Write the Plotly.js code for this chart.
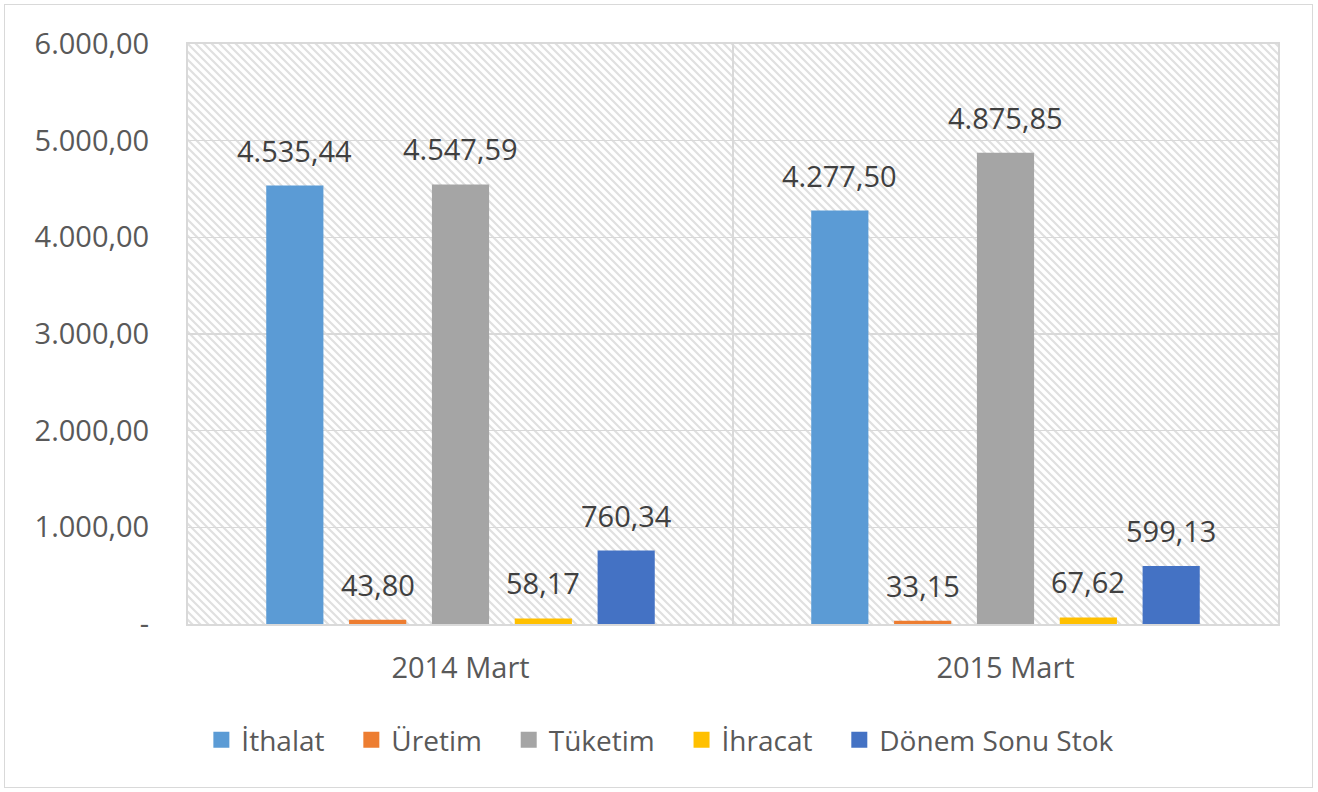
<!DOCTYPE html>
<html>
<head>
<meta charset="utf-8">
<script src="https://cdn.plot.ly/plotly-3.0.1.min.js"></script>
<style>
html,body{margin:0;padding:0;background:#fff;}
#wrap{position:relative;width:1318px;height:792px;}
#chart{width:1318px;height:792px;}
#frame{position:absolute;left:4px;top:4px;width:1307px;height:782px;border:1.5px solid #d9d9d9;pointer-events:none;}
</style>
</head>
<body>
<div id="wrap"><div id="chart"></div><div id="frame"></div></div>
<script>
const categories = ["2014 Mart", "2015 Mart"];
const seriesNames = ["İthalat", "Üretim", "Tüketim", "İhracat", "Dönem Sonu Stok"];
const ithalat = [4535.44, 4277.50];
const uretim = [43.80, 33.15];
const tuketim = [4547.59, 4875.85];
const ihracat = [58.17, 67.62];
const donemSonuStok = [760.34, 599.13];
const yTickVals = [0, 1000, 2000, 3000, 4000, 5000, 6000];
const yTickLabels = ["-", "1.000,00", "2.000,00", "3.000,00", "4.000,00", "5.000,00", "6.000,00"];

const seriesValues = [ithalat, uretim, tuketim, ihracat, donemSonuStok];
const colors = ["#5B9BD5", "#ED7D31", "#A5A5A5", "#FFC000", "#4472C4"];
const FONT = "Open Sans, DejaVu Sans, sans-serif";
const BARGAP = 0.24;
const NBSP = "\u00a0";

function fmt(v) {
  const parts = v.toFixed(2).split(".");
  return parts[0].replace(/\B(?=(\d{3})+(?!\d))/g, ".") + "," + parts[1];
}

const traces = seriesNames.map((name, i) => ({
  type: "bar",
  name: name + NBSP + NBSP + NBSP,
  x: categories,
  y: seriesValues[i],
  marker: {color: colors[i]},
  hoverinfo: "x+y+name"
}));

// data labels as annotations positioned in data coordinates (category index + group offset)
const slot = (1 - BARGAP) / seriesNames.length;
const annotations = [];
seriesValues.forEach((vals, i) => {
  vals.forEach((v, j) => {
    annotations.push({
      x: j + (i - (seriesNames.length - 1) / 2) * slot,
      y: v,
      xref: "x", yref: "y",
      text: fmt(v),
      showarrow: false,
      yanchor: "bottom",
      yshift: 14,
      font: {family: FONT, size: 29, color: "#404040"}
    });
  });
});

const hatchSvg = "<svg xmlns='http://www.w3.org/2000/svg' width='1090' height='580'>" +
  "<defs><pattern id='h' patternUnits='userSpaceOnUse' width='8' height='8'>" +
  "<path d='M-2,-2 L10,10 M-2,6 L2,10 M6,-2 L10,2' stroke='#e0e0e0' stroke-width='2.2'/>" +
  "</pattern></defs><rect width='1090' height='580' fill='#ffffff'/><rect width='1090' height='580' fill='url(#h)'/></svg>";

const layout = {
  width: 1318, height: 792,
  separators: ",.",
  margin: {l: 188, r: 40, t: 44, b: 168},
  paper_bgcolor: "#ffffff",
  plot_bgcolor: "rgba(0,0,0,0)",
  bargap: BARGAP,
  bargroupgap: 0.31,
  font: {family: FONT, color: "#595959"},
  images: [{
    source: "data:image/svg+xml;charset=utf-8," + encodeURIComponent(hatchSvg),
    xref: "paper", yref: "paper",
    x: 0, y: 1, sizex: 1, sizey: 1,
    xanchor: "left", yanchor: "top",
    sizing: "stretch", layer: "below"
  }],
  annotations: annotations,
  xaxis: {
    type: "category",
    tickson: "boundaries",
    showgrid: true,
    gridcolor: "#d9d9d9",
    gridwidth: 1.5,
    showline: true,
    linecolor: "#d9d9d9",
    linewidth: 2,
    mirror: true,
    ticks: "",
    tickangle: 0,
    automargin: false,
    tickfont: {family: FONT, size: 29, color: "#595959"},
    ticklabelstandoff: 17
  },
  yaxis: {
    range: [0, 6000],
    tickvals: yTickVals,
    ticktext: yTickLabels,
    showgrid: true,
    gridcolor: "#d9d9d9",
    gridwidth: 1.5,
    showline: true,
    linecolor: "#d9d9d9",
    linewidth: 2,
    mirror: true,
    zeroline: false,
    ticks: "",
    automargin: false,
    tickfont: {family: FONT, size: 29, color: "#595959"},
    ticklabelstandoff: 31
  },
  legend: {
    orientation: "h",
    x: 0.443, xanchor: "center",
    y: -0.157, yanchor: "top",
    font: {family: FONT, size: 28, color: "#595959"},
    itemwidth: 30,
    traceorder: "normal"
  },
  showlegend: true
};

Plotly.newPlot("chart", traces, layout, {displayModeBar: false, staticPlot: true}).then(gd => {
  gd.querySelectorAll(".legend .legendpoints path").forEach(p => {
    p.setAttribute("d", "M8,8H-8V-8H8Z");
  });
});
</script>
</body>
</html>
